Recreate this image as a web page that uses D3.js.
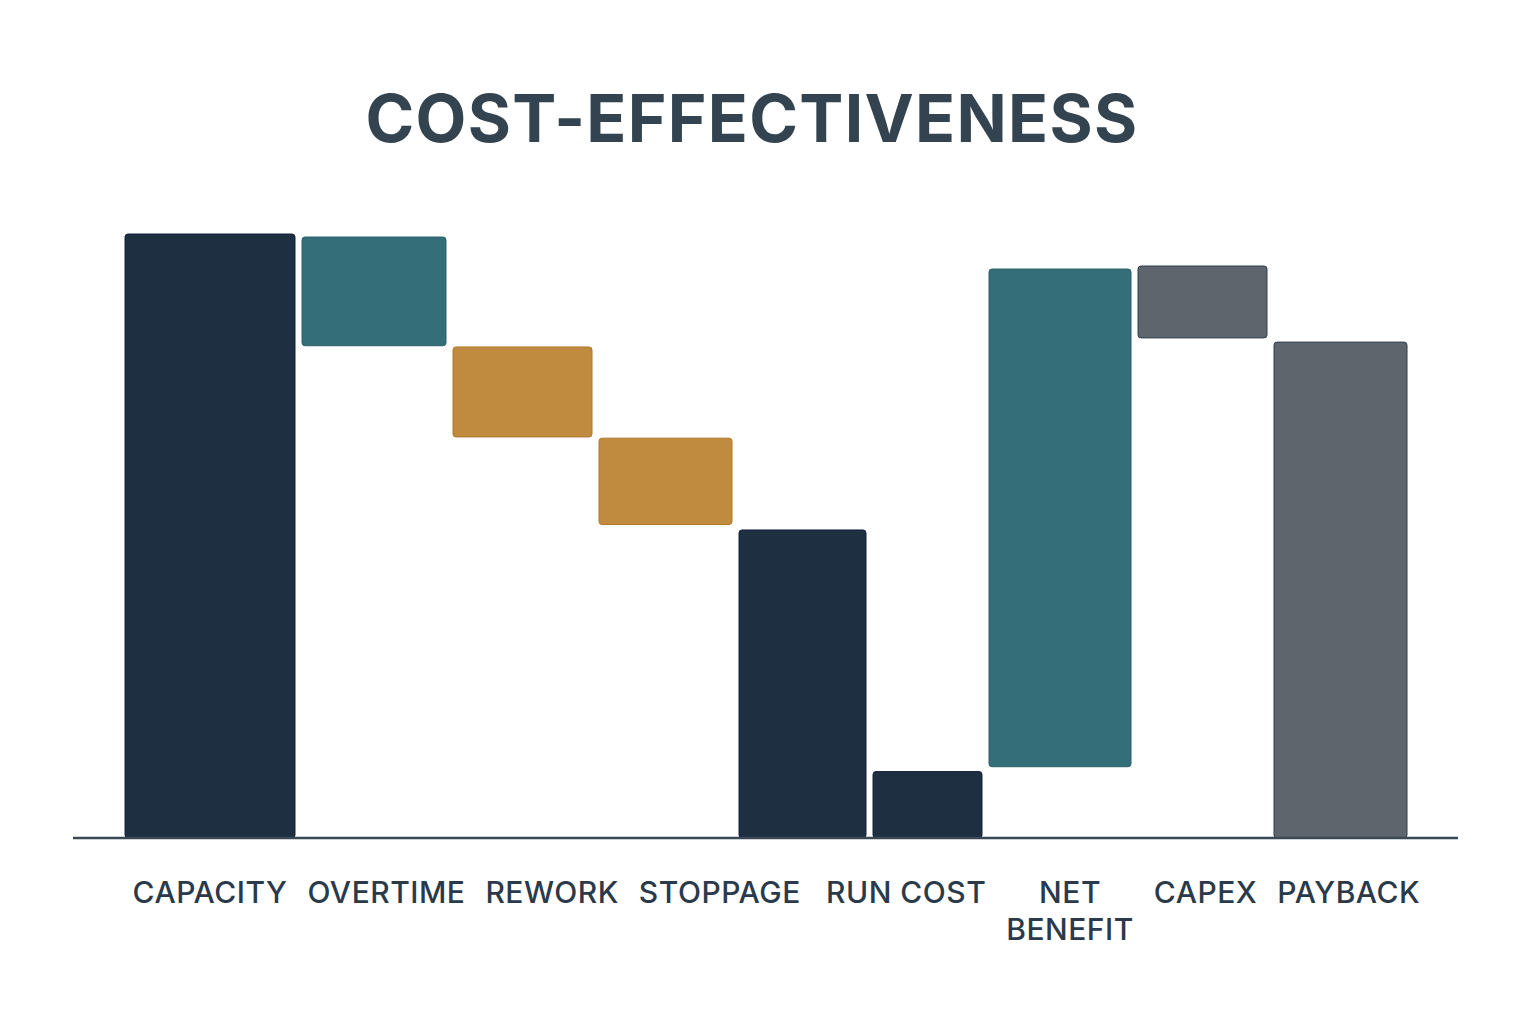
<!DOCTYPE html>
<html>
<head>
<meta charset="utf-8">
<script src="https://cdn.jsdelivr.net/npm/d3@7"></script>
<style>
  html, body { margin: 0; padding: 0; background: #ffffff; }
  #chart { width: 1536px; height: 1024px; }
</style>
</head>
<body>
<div id="chart"></div>
<script>
// Chart data (units: capacity = 100)
var steps = ["CAPACITY", "OVERTIME", "REWORK", "STOPPAGE", "SUBTOTAL", "RUN COST", "NET BENEFIT", "CAPEX", "PAYBACK"];
var stepLabels = [["CAPACITY"], ["OVERTIME"], ["REWORK"], ["STOPPAGE"], [], ["RUN COST"], ["NET", "BENEFIT"], ["CAPEX"], ["PAYBACK"]];
var barStart = [0, 81.5, 66.4, 51.9, 0, 0, 11.8, 82.8, 0];
var barEnd = [100, 99.5, 81.3, 66.2, 51.0, 11.0, 94.2, 94.7, 82.1];
var barKind = ["total", "gain", "loss", "loss", "total", "total", "gain", "cost", "cost"];

// layout (not data): relative slot width of each step
const slotWeight = [1.77, 1.51, 1.46, 1.40, 1.34, 1.16, 1.49, 1.36, 1.40];
const barGap = 7;

const kindColor = { total: "#1f2f42", gain: "#346f79", loss: "#c08b3f", cost: "#5e656d" };
const kindStroke = { total: "#16233a", gain: "#2c5f6a", loss: "#b2782a", cost: "#2e3e4e" };

const W = 1536, H = 1024;
const baseY = 838;

const svg = d3.select("#chart")
    .append("svg")
    .attr("width", W)
    .attr("height", H);

// title
svg.append("text")
    .attr("x", 752)
    .attr("y", 142)
    .attr("text-anchor", "middle")
    .style("font-family", "Inter, 'Open Sans', sans-serif")
    .style("font-weight", 700)
    .style("font-size", "66px")
    .style("letter-spacing", "1.3px")
    .style("fill", "#33434f")
    .text("COST-EFFECTIVENESS");

// x positions from cumulative slot weights
const cum = [0];
slotWeight.forEach(w => cum.push(cum[cum.length - 1] + w));

const x = d3.scaleLinear()
    .domain([0, cum[cum.length - 1]])
    .range([125, 1414]);

const y = d3.scaleLinear()
    .domain([0, 100])
    .range([baseY, 234]);

const data = steps.map((s, i) => ({
    key: s,
    lines: stepLabels[i],
    x0: x(cum[i]),
    w: x(cum[i + 1]) - x(cum[i]) - barGap,
    lo: Math.min(barStart[i], barEnd[i]),
    hi: Math.max(barStart[i], barEnd[i]),
    kind: barKind[i]
}));

svg.append("g")
    .selectAll("rect")
    .data(data)
    .enter().append("rect")
    .attr("x", d => d.x0)
    .attr("y", d => y(d.hi))
    .attr("width", d => d.w)
    .attr("height", d => y(d.lo) - y(d.hi))
    .attr("rx", 3)
    .attr("fill", d => kindColor[d.kind])
    .attr("stroke", d => kindStroke[d.kind])
    .attr("stroke-width", 1);

// baseline
svg.append("line")
    .attr("x1", 73)
    .attr("x2", 1458)
    .attr("y1", baseY)
    .attr("y2", baseY)
    .attr("stroke", "#3b4956")
    .attr("stroke-width", 2.5);

// category labels, first placed under their bars
const labelData = data.filter(d => d.lines.length > 0);
labelData.forEach(d => { d.cx = d.x0 + d.w / 2; });

const labels = svg.append("g")
    .selectAll("text")
    .data(labelData)
    .enter().append("text")
    .attr("y", 903)
    .attr("text-anchor", "middle")
    .style("font-family", "Inter, 'Open Sans', sans-serif")
    .style("font-weight", 500)
    .style("font-size", "30px")
    .style("letter-spacing", "0.5px")
    .style("fill", "#2a3a4a");

function placeLabels() {
    labels.attr("x", d => d.cx);
    labels.selectAll("tspan").attr("x", function() {
        return d3.select(this.parentNode).datum().cx;
    });
}

labels.selectAll("tspan")
    .data(d => d.lines)
    .enter().append("tspan")
    .attr("dy", (d, i) => i === 0 ? 0 : 37)
    .text(d => d);

placeLabels();

// spread labels so neighbours keep a clear gap (first label stays put)
labelData.forEach(function(d, i) {
    d.lw = labels.nodes()[i].getBBox().width;
});
const labelGap = 20;
for (let it = 0; it < 80; it++) {
    for (let i = 0; i < labelData.length - 1; i++) {
        const a = labelData[i], b = labelData[i + 1];
        const overlap = (a.cx + a.lw / 2 + labelGap) - (b.cx - b.lw / 2);
        if (overlap > 0) {
            if (i === 0) {
                b.cx += overlap;
            } else {
                a.cx -= overlap / 2;
                b.cx += overlap / 2;
            }
        }
    }
}

placeLabels();
</script>
</body>
</html>
